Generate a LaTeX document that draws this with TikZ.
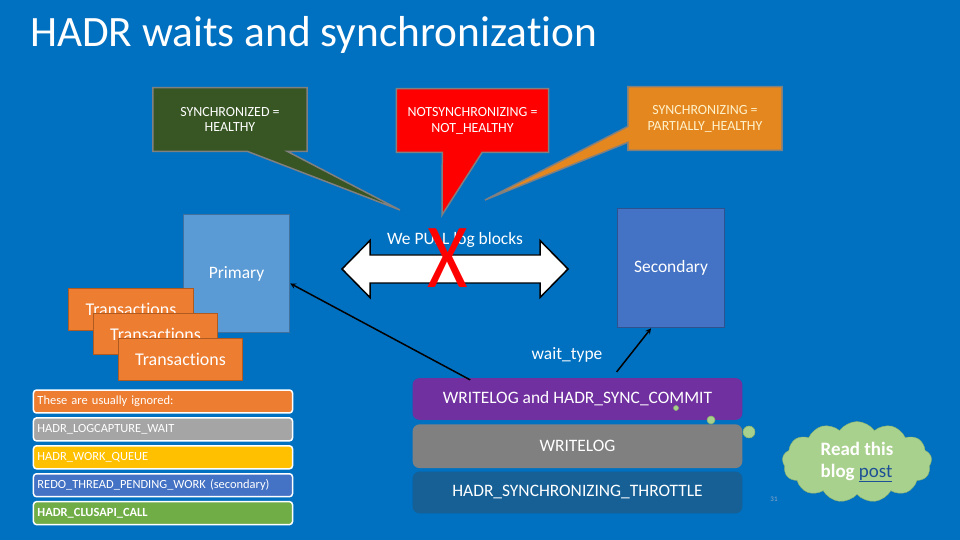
\documentclass[tikz,border=0pt]{standalone}
\usepackage{fontspec}
\setmainfont{Carlito}[Ligatures=NoCommon]
\usetikzlibrary{shapes.geometric, shapes.callouts, shapes.symbols, positioning, arrows}

\definecolor{slideblue}{RGB}{0,112,192}
\definecolor{healthgreen}{RGB}{55,86,35}
\definecolor{calloutgray}{RGB}{128,128,128}
\definecolor{partorange}{RGB}{228,135,30}
\definecolor{cream}{RGB}{255,242,204}
\definecolor{primblue}{RGB}{91,155,213}
\definecolor{primedge}{RGB}{65,113,156}
\definecolor{secblue}{RGB}{68,114,196}
\definecolor{secedge}{RGB}{47,82,143}
\definecolor{txorange}{RGB}{237,125,49}
\definecolor{txedge}{RGB}{174,90,33}
\definecolor{listgray}{RGB}{165,165,165}
\definecolor{listyellow}{RGB}{255,192,0}
\definecolor{listgreen}{RGB}{112,173,71}
\definecolor{waitpurple}{RGB}{112,48,160}
\definecolor{waitgray}{RGB}{128,128,128}
\definecolor{waitteal}{RGB}{22,96,150}
\definecolor{cloudgreen}{RGB}{169,209,142}
\definecolor{cloudedge}{RGB}{140,180,110}
\definecolor{linkblue}{RGB}{30,80,150}
\definecolor{numgray}{RGB}{150,170,200}

\tikzstyle{callbox} = [
    rectangle callout,
    draw=calloutgray,
    line width=1.5pt,
    text=white,
    align=center,
    minimum width=155,
    minimum height=64,
    font=\fontsize{14}{16}\selectfont
]
\tikzstyle{replica} = [
    rectangle,
    line width=1pt,
    text=white,
    minimum width=107,
    minimum height=119,
    font=\fontsize{17.5}{20}\selectfont
]
\tikzstyle{txbox} = [
    rectangle,
    draw=txedge,
    fill=txorange,
    line width=1pt,
    text=white,
    minimum width=125,
    minimum height=43,
    font=\fontsize{18}{20}\selectfont
]
\tikzstyle{listbox} = [
    rectangle,
    rounded corners=3pt,
    draw=white,
    line width=1.5pt,
    text=white,
    text width=252,
    inner xsep=4pt,
    minimum height=23,
    align=left,
    font=\fontsize{12.5}{14}\selectfont
]
\tikzstyle{stackbox} = [
    rectangle,
    rounded corners=7pt,
    text=white,
    minimum width=331,
    minimum height=42,
    font=\fontsize{17.5}{20}\selectfont
]
\tikzstyle{label} = [
    text=white,
    font=\fontsize{17.5}{20}\selectfont
]
\tikzstyle{bubble} = [
    circle,
    inner sep=0,
    fill=cloudgreen,
    draw=cloudedge,
    line width=0.6pt
]
\tikzstyle{arrow} = [
    line width=1.5pt,
    ->,
    >=stealth
]

\begin{document}
\begin{tikzpicture}[x=1bp, y=-1bp, >=stealth]
        \fill[slideblue] (0,0) rectangle (960,540);
        \useasboundingbox (0,0) rectangle (960,540);

        \node (title) [anchor=west, inner sep=0, text=white, font=\fontsize{43.5}{50}\selectfont] at (30,35) {HADR waits and synchronization};

        % health states
        \node (healthy) [callbox, fill=healthgreen, callout absolute pointer={(400,210)}, callout pointer width=40] at (230,119.5) {SYNCHRONIZED =\\HEALTHY};
        \node (nothealthy) [callbox, fill=red, minimum width=153, callout absolute pointer={(442,215)}, callout pointer width=40] at (472.5,120.5) {NOTSYNCHRONIZING =\\NOT\_HEALTHY};
        \node (partial) [callbox, fill=partorange, text=cream, callout absolute pointer={(485,200)}, callout pointer width=16] at (705,118.5) {SYNCHRONIZING =\\PARTIALLY\_HEALTHY};

        % replicas
        \node (primary) [replica, fill=primblue, draw=primedge] at (236.5,273.5) {Primary};
        \node (secondary) [replica, fill=secblue, draw=secedge, minimum width=108, minimum height=120] at (671,268) {Secondary};

        \node (tx1) [txbox, minimum width=126] at (131,309.5) {Transactions};
        \node (tx2) [txbox, minimum height=42] at (155.5,334) {Transactions};
        \node (tx3) [txbox] at (180.5,359.5) {Transactions};

        % log block transport
        \draw[line width=1.5pt, fill=white] (342,269) -- (370,240.5) -- (370,255) -- (540,255) -- (540,240.5) -- (568,269)
            -- (540,297.5) -- (540,283) -- (370,283) -- (370,297.5) -- cycle;
        \node (pulltext) [label] at (455,240) {We PULL log blocks};
        \node (nope) [inner sep=0, text=red, font=\fontsize{92}{92}\selectfont] at (448,258) {\scalebox{0.85}[1]{X}};

        \node (waittype) [label] at (567,355) {wait\_type};

        % wait types
        \node (synccommit) [stackbox, fill=waitpurple] at (577.5,399) {WRITELOG and HADR\_SYNC\_COMMIT};
        \node (writelog) [stackbox, fill=waitgray, minimum height=44, below=4bp of synccommit] {WRITELOG};
        \node (throttle) [stackbox, fill=waitteal, below=3bp of writelog] {HADR\_SYNCHRONIZING\_THROTTLE};

        \draw[arrow] ([xshift=58, yshift=-2]synccommit.north west) -- ([yshift=-10]primary.east);
        \draw[arrow] ([xshift=205, yshift=6]synccommit.north west) -- ([xshift=-20]secondary.south);

        % ignored waits
        \node (ignored) [listbox, fill=txorange] at (163,401.5) {These are usually ignored:};
        \node (logcapture) [listbox, fill=listgray, below=3.5bp of ignored] {HADR\_LOGCAPTURE\_WAIT};
        \node (workqueue) [listbox, fill=listyellow, below=3.5bp of logcapture] {HADR\_WORK\_QUEUE};
        \node (redo) [listbox, fill=secblue, below=3.5bp of workqueue] {REDO\_THREAD\_PENDING\_WORK (secondary)};
        \node (clusapi) [listbox, fill=listgreen, below=3.5bp of redo] {\bfseries HADR\_CLUSAPI\_CALL};

        % blog note
        \node (blogpost) [cloud, cloud puffs=13, cloud puff arc=110, aspect=2, fill=cloudgreen, draw=cloudedge, minimum width=150, minimum height=76, align=left, text=white, font=\fontsize{19}{22}\selectfont\bfseries] at (857,462) {Read this\\blog {\mdseries\color{linkblue}\underline{post}}};
        \node (bubble1) [bubble, minimum size=12] at (749,432) {};
        \node (bubble2) [bubble, minimum size=8] at (711,420) {};
        \node (bubble3) [bubble, minimum size=5] at (676,408) {};

        \node (pagenum) [text=numgray, font=\fontsize{7}{8}\selectfont] at (774,499) {31};
    \end{tikzpicture}
\end{document}
